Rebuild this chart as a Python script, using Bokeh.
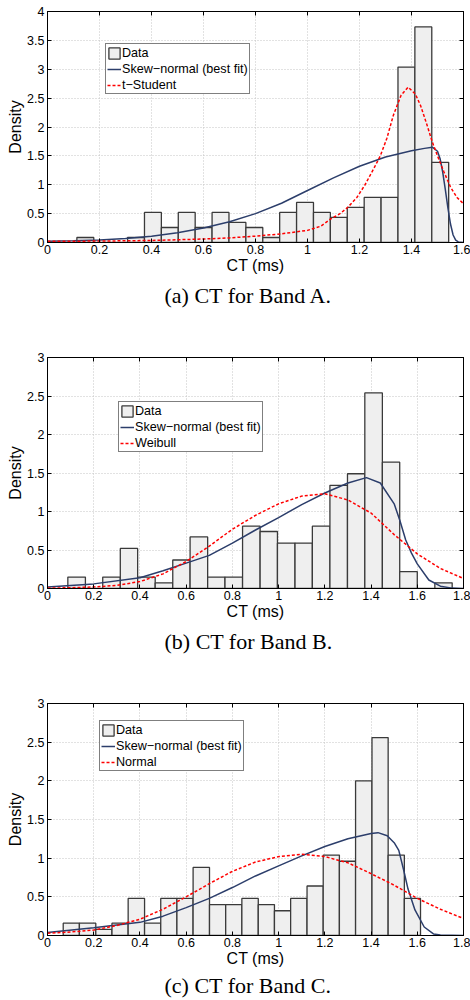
from bokeh.plotting import figure
from bokeh.layouts import column
from bokeh.models import (Range1d, FixedTicker, LinearAxis, Legend, LegendItem,
                          GlobalInlineStyleSheet)
from bokeh.embed import file_html
from bokeh.resources import INLINE

# ---------------- data ----------------
# Panel A (Band A)
a_left = [0.113, 0.178, 0.243, 0.308, 0.373, 0.438, 0.503, 0.568, 0.633, 0.698, 0.763,
          0.828, 0.893, 0.958, 1.023, 1.088, 1.153, 1.218, 1.283, 1.348, 1.413, 1.478]
a_right = [0.178, 0.243, 0.308, 0.373, 0.438, 0.503, 0.568, 0.633, 0.698, 0.763, 0.828,
           0.893, 0.958, 1.023, 1.088, 1.153, 1.218, 1.283, 1.348, 1.413, 1.478, 1.543]
a_density = [0.087, 0.0, 0.0, 0.087, 0.521, 0.26, 0.521, 0.26, 0.521, 0.347, 0.26,
             0.087, 0.521, 0.694, 0.521, 0.434, 0.608, 0.781, 0.781, 3.038, 3.733, 1.389]
a_skew_x = [0, 0.1, 0.2, 0.3, 0.4, 0.5, 0.6, 0.7, 0.8, 0.9, 1.0, 1.1, 1.2, 1.3, 1.4, 1.45,
            1.48, 1.5, 1.51, 1.52, 1.53, 1.54, 1.55, 1.56, 1.57, 1.58, 1.6]
a_skew_y = [0.02, 0.03, 0.045, 0.07, 0.11, 0.17, 0.25, 0.36, 0.5, 0.68, 0.9, 1.12, 1.32,
            1.48, 1.59, 1.63, 1.65, 1.58, 1.45, 1.22, 0.92, 0.6, 0.32, 0.13, 0.04, 0.01, 0.0]
a_fit_x = [0, 0.2, 0.4, 0.6, 0.7, 0.8, 0.9, 1.0, 1.05, 1.09, 1.125, 1.155, 1.19, 1.22,
           1.255, 1.28, 1.305, 1.33, 1.36, 1.387, 1.415, 1.435, 1.46, 1.48, 1.5, 1.525,
           1.55, 1.575, 1.6]
a_fit_y = [0.02, 0.025, 0.035, 0.06, 0.08, 0.11, 0.15, 0.21, 0.28, 0.41, 0.5, 0.61, 0.78,
           0.99, 1.28, 1.5, 1.8, 2.2, 2.55, 2.69, 2.57, 2.37, 2.03, 1.74, 1.5, 1.22, 0.96,
           0.78, 0.67]

# Panel B (Band B)
b_left = [0.088, 0.164, 0.239, 0.315, 0.390, 0.466, 0.542, 0.617, 0.693, 0.768, 0.844,
          0.920, 0.995, 1.071, 1.146, 1.222, 1.298, 1.373, 1.449, 1.524, 1.600, 1.676]
b_right = [0.164, 0.239, 0.315, 0.390, 0.466, 0.542, 0.617, 0.693, 0.768, 0.844, 0.920,
           0.995, 1.071, 1.146, 1.222, 1.298, 1.373, 1.449, 1.524, 1.600, 1.676, 1.751]
b_density = [0.148, 0.0, 0.148, 0.52, 0.148, 0.074, 0.37, 0.67, 0.148, 0.148, 0.81,
             0.74, 0.59, 0.59, 0.81, 1.34, 1.49, 2.54, 1.64, 0.22, 0.0, 0.074]
b_skew_x = [0, 0.2, 0.4, 0.5, 0.6, 0.7, 0.8, 0.9, 1.0, 1.1, 1.2, 1.3, 1.38, 1.44, 1.5,
            1.525, 1.55, 1.575, 1.6, 1.65, 1.7, 1.75, 1.8]
b_skew_y = [0.02, 0.06, 0.14, 0.23, 0.33, 0.43, 0.59, 0.76, 0.92, 1.09, 1.24, 1.37, 1.44,
            1.37, 1.1, 0.88, 0.63, 0.46, 0.32, 0.11, 0.03, 0.005, 0.0]
b_fit_x = [0, 0.1, 0.2, 0.3, 0.4, 0.5, 0.6, 0.7, 0.8, 0.9, 1.0, 1.1, 1.2, 1.3, 1.4, 1.5,
           1.6, 1.7, 1.8]
b_fit_y = [0.005, 0.01, 0.02, 0.04, 0.09, 0.19, 0.35, 0.55, 0.77, 0.95, 1.1, 1.2, 1.23,
           1.15, 0.98, 0.7, 0.45, 0.26, 0.13]

# Panel C (Band C)
c_left = [0.068, 0.138, 0.209, 0.279, 0.349, 0.420, 0.490, 0.560, 0.630, 0.701, 0.771,
          0.841, 0.912, 0.982, 1.052, 1.123, 1.193, 1.263, 1.333, 1.404, 1.474, 1.544]
c_right = [0.138, 0.209, 0.279, 0.349, 0.420, 0.490, 0.560, 0.630, 0.701, 0.771, 0.841,
           0.912, 0.982, 1.052, 1.123, 1.193, 1.263, 1.333, 1.404, 1.474, 1.544, 1.614]
c_density = [0.16, 0.16, 0.08, 0.16, 0.48, 0.16, 0.48, 0.48, 0.88, 0.40, 0.40, 0.48,
             0.40, 0.32, 0.48, 0.64, 1.04, 0.96, 2.0, 2.56, 1.04, 0.48]
c_skew_x = [0, 0.2, 0.4, 0.5, 0.6, 0.7, 0.8, 0.9, 1.0, 1.1, 1.2, 1.3, 1.4, 1.43, 1.47,
            1.5, 1.52, 1.54, 1.56, 1.59, 1.63, 1.67, 1.7, 1.8]
c_skew_y = [0.04, 0.1, 0.17, 0.25, 0.36, 0.48, 0.62, 0.77, 0.9, 1.03, 1.15, 1.25, 1.32,
            1.33, 1.29, 1.2, 1.1, 0.86, 0.6, 0.33, 0.11, 0.02, 0.005, 0.0]
c_fit_x = [0, 0.1, 0.2, 0.3, 0.4, 0.5, 0.6, 0.7, 0.8, 0.9, 1.0, 1.1, 1.2, 1.3, 1.4, 1.5,
           1.6, 1.7, 1.8]
c_fit_y = [0.03, 0.045, 0.07, 0.13, 0.21, 0.34, 0.5, 0.67, 0.83, 0.95, 1.02, 1.05, 1.02,
           0.94, 0.8, 0.65, 0.48, 0.34, 0.22]

x_ticks_a = [0, 0.2, 0.4, 0.6, 0.8, 1.0, 1.2, 1.4, 1.6]
x_labels_a = ["0", "0.2", "0.4", "0.6", "0.8", "1", "1.2", "1.4", "1.6"]
x_ticks_bc = [0, 0.2, 0.4, 0.6, 0.8, 1.0, 1.2, 1.4, 1.6, 1.8]
x_labels_bc = ["0", "0.2", "0.4", "0.6", "0.8", "1", "1.2", "1.4", "1.6", "1.8"]
y_ticks_a = [0, 0.5, 1.0, 1.5, 2.0, 2.5, 3.0, 3.5, 4.0]
y_labels_a = ["0", "0.5", "1", "1.5", "2", "2.5", "3", "3.5", "4"]
y_ticks_bc = [0, 0.5, 1.0, 1.5, 2.0, 2.5, 3.0]
y_labels_bc = ["0", "0.5", "1", "1.5", "2", "2.5", "3"]

NAVY = "#2c3e6b"
RED = "#ff0000"
SANS = "Liberation Sans"
SERIF = "Liberation Serif"


def panel(left, right, dens, sx, sy, fx, fy, fit_name, xmax, ymax, xt, xl, yt, yl,
          caption, height, bottom, legend_loc, cap_standoff):
    p = figure(width=470, height=height, x_range=Range1d(0, xmax), y_range=Range1d(0, ymax),
               output_backend="svg", toolbar_location=None, title=caption,
               title_location="below", min_border_left=47, min_border_right=7,
               min_border_top=11, min_border_bottom=bottom)
    p.background_fill_color = "white"
    p.border_fill_color = "white"
    p.outline_line_color = "black"
    p.outline_line_width = 1

    xticker = FixedTicker(ticks=xt)
    yticker = FixedTicker(ticks=yt)
    xa = p.xaxis[0]
    ya = p.yaxis[0]
    xa.ticker = xticker
    ya.ticker = yticker
    xa.major_label_overrides = {t: s for t, s in zip(xt, xl)}
    ya.major_label_overrides = {t: s for t, s in zip(yt, yl)}
    for ax in (xa, ya):
        ax.major_tick_in = 4
        ax.major_tick_out = 0
        ax.minor_tick_line_color = None
        ax.axis_line_color = "black"
        ax.major_tick_line_color = "black"
        ax.major_label_text_font = SANS
        ax.major_label_text_font_size = "12.5px"
        ax.major_label_text_color = "black"
        ax.axis_label_text_font = SANS
        ax.axis_label_text_font_size = "16px"
        ax.axis_label_text_font_style = "normal"
        ax.axis_label_text_color = "black"
    xa.axis_label = "CT (ms)"
    ya.axis_label = "Density"
    xa.major_label_standoff = 2
    xa.axis_label_standoff = 0
    ya.major_label_standoff = 3
    ya.axis_label_standoff = 0

    for loc, tk in (("above", xticker), ("right", yticker)):
        ax = LinearAxis(ticker=tk, major_tick_in=4, major_tick_out=0,
                        minor_tick_line_color=None, axis_line_color="black",
                        major_label_text_color=None, major_label_text_font_size="1px",
                        major_label_standoff=0)
        p.add_layout(ax, loc)

    for g in (p.xgrid[0], p.ygrid[0]):
        g.grid_line_color = "#c4c4c4"
        g.grid_line_dash = "1 2"
        g.grid_line_width = 1
    p.xgrid[0].ticker = xticker
    p.ygrid[0].ticker = yticker

    bars = p.quad(left=left, right=right, top=dens, bottom=0, fill_color="#efefef",
                  line_color="#3a3a3a", line_width=1.3)
    skew = p.line(sx, sy, line_color=NAVY, line_width=1.5)
    fit = p.line(fx, fy, line_color=RED, line_width=1.5, line_dash="3 2")

    leg = Legend(items=[LegendItem(label="Data", renderers=[bars]),
                        LegendItem(label="Skew\u2212normal (best fit)", renderers=[skew]),
                        LegendItem(label=fit_name, renderers=[fit])],
                 location=legend_loc)
    leg.border_line_color = "black"
    leg.border_line_width = 1.5
    leg.background_fill_color = "white"
    leg.background_fill_alpha = 1
    leg.padding = 1
    leg.spacing = 1
    leg.margin = 0
    leg.label_standoff = 1
    leg.glyph_width = 14
    leg.glyph_height = 14
    leg.label_height = 15
    leg.label_text_font = SANS
    leg.label_text_font_size = "12.6px"
    leg.label_text_color = "black"
    p.add_layout(leg)

    p.title.text_font = SERIF
    p.title.text_font_size = "22px"
    p.title.text_font_style = "normal"
    p.title.text_color = "black"
    p.title.align = "left"
    p.title.offset = 117
    p.title.standoff = cap_standoff
    return p


pa = panel(a_left, a_right, a_density, a_skew_x, a_skew_y, a_fit_x, a_fit_y, "t\u2212Student",
           1.6, 4, x_ticks_a, x_labels_a, y_ticks_a, y_labels_a, "(a) CT for Band A.",
           346, 104, (58, 148), 8)
pb = panel(b_left, b_right, b_density, b_skew_x, b_skew_y, b_fit_x, b_fit_y, "Weibull",
           1.8, 3, x_ticks_bc, x_labels_bc, y_ticks_bc, y_labels_bc, "(b) CT for Band B.",
           346, 104, (71, 136), 8)
pc = panel(c_left, c_right, c_density, c_skew_x, c_skew_y, c_fit_x, c_fit_y, "Normal",
           1.8, 3, x_ticks_bc, x_labels_bc, y_ticks_bc, y_labels_bc, "(c) CT for Band C.",
           308, 65, (52, 164), 3)

layout = column(pa, pb, pc, spacing=0,
                stylesheets=[GlobalInlineStyleSheet(
                    css="html, body { margin: 0; padding: 0; overflow: hidden; }")])

open("out.html", "w").write(file_html(layout, INLINE))
